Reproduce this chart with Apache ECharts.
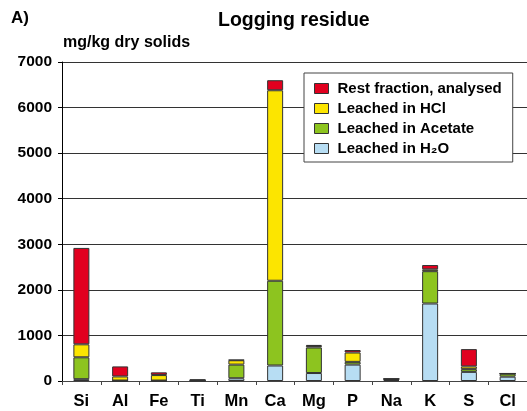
<!DOCTYPE html>
<html><head><meta charset="utf-8">
<script src="https://cdn.jsdelivr.net/npm/echarts@6/dist/echarts.min.js"></script>
<style>html,body{margin:0;padding:0;background:#fff}#c{width:527px;height:411px}</style>
</head><body><div id="c"></div>
<script>
const categories = ['Si','Al','Fe','Ti','Mn','Ca','Mg','P','Na','K','S','Cl'];
const h2o     = [40, 0, 0, 5, 60, 340, 175, 360, 20, 1700, 200, 95];
const acetate = [480, 10, 10, 5, 300, 1860, 560, 60, 20, 710, 60, 65];
const hcl     = [285, 90, 120, 10, 95, 4180, 35, 205, 5, 40, 60, 5];
const rest    = [2115, 220, 60, 10, 10, 220, 20, 55, 5, 95, 380, 0];
const yTicks = [0, 1000, 2000, 3000, 4000, 5000, 6000, 7000];

const FONT = 'Liberation Sans, Arial, sans-serif';
const chart = echarts.init(document.getElementById('c'), null, {renderer:'canvas'});
const mk = (name, data, color) => ({
  name, type:'bar', stack:'t', data, barWidth:16,
  itemStyle:{color, borderColor:'#333', borderWidth:1},
  emphasis:{disabled:true}
});
chart.setOption({
  animation:false,
  backgroundColor:'#fff',
  graphic:[
    {type:'text', left:11, top:10, style:{text:'A)', font:'bold 17px '+FONT, fill:'#000'}},
    {type:'text', left:218, top:11, style:{text:'Logging residue', font:'bold 19.5px '+FONT, fill:'#000'}},
    {type:'text', left:63, top:35, style:{text:'mg/kg dry solids', font:'bold 16px '+FONT, fill:'#000'}}
  ],
  grid:{left:62, top:62, width:467, height:319, containLabel:false},
  legend:{
    left:304, top:73, orient:'vertical',
    data:['Rest fraction, analysed','Leached in HCl','Leached in Acetate','Leached in H₂O'],
    backgroundColor:'#fff', borderColor:'#444', borderWidth:1,
    padding:[8,11,6,10], itemGap:5, itemWidth:14, itemHeight:10,
    icon:'rect',
    itemStyle:{borderColor:'#333', borderWidth:1},
    textStyle:{fontFamily:FONT, fontWeight:'bold', fontSize:15, color:'#000', lineHeight:15, padding:[0,0,0,4]}
  },
  xAxis:{
    type:'category', data:categories,
    axisLine:{lineStyle:{color:'#444', width:1}},
    axisTick:{show:true, length:4, lineStyle:{color:'#444'}},
    axisLabel:{fontFamily:FONT, fontWeight:'bold', fontSize:16.5, color:'#000', margin:12, interval:0}
  },
  yAxis:{
    type:'value', min:0, max:7000, interval:1000,
    axisLine:{show:true, lineStyle:{color:'#000', width:1}},
    axisTick:{show:true, length:4, lineStyle:{color:'#000'}},
    axisLabel:{fontFamily:FONT, fontWeight:'bold', fontSize:15.5, color:'#000', margin:10,
      formatter:v => yTicks.includes(v) ? String(v) : ''},
    splitLine:{show:true, lineStyle:{color:'#333', width:1}}
  },
  series:[
    mk('Leached in H₂O', h2o, '#B7DDF3'),
    mk('Leached in Acetate', acetate, '#8DC41F'),
    mk('Leached in HCl', hcl, '#FCE500'),
    mk('Rest fraction, analysed', rest, '#E1001F')
  ]
});
</script></body></html>
